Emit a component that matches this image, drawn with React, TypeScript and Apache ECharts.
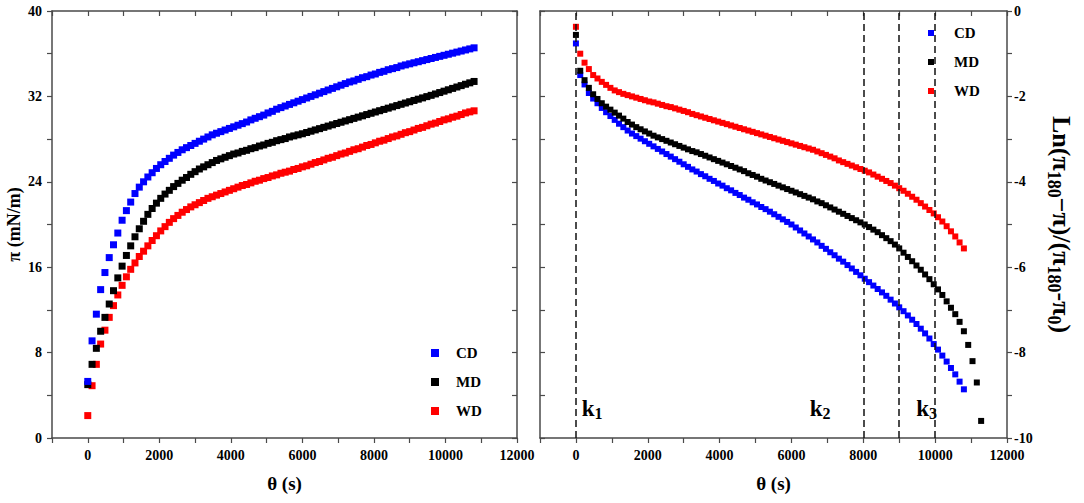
import React, { useEffect, useRef } from 'react';
import * as echarts from 'echarts';

// ---------- data ----------
const times = [
  0, 120, 240, 360, 480, 600, 720, 840, 960, 1080,
  1200, 1320, 1440, 1560, 1680, 1800, 1920, 2040, 2160, 2280,
  2400, 2520, 2640, 2760, 2880, 3000, 3120, 3240, 3360, 3480,
  3600, 3720, 3840, 3960, 4080, 4200, 4320, 4440, 4560, 4680,
  4800, 4920, 5040, 5160, 5280, 5400, 5520, 5640, 5760, 5880,
  6000, 6120, 6240, 6360, 6480, 6600, 6720, 6840, 6960, 7080,
  7200, 7320, 7440, 7560, 7680, 7800, 7920, 8040, 8160, 8280,
  8400, 8520, 8640, 8760, 8880, 9000, 9120, 9240, 9360, 9480,
  9600, 9720, 9840, 9960, 10080, 10200, 10320, 10440, 10560, 10680,
  10800,
];
const timesMdRight = [...times, 10920, 11040, 11160, 11280];

// surface pressure pi (mN/m)
const piCD = [
  5.3, 9.1, 11.6, 13.9, 15.5, 16.9, 18.1, 19.2, 20.4, 21.3,
  22.1, 22.9, 23.5, 24.0, 24.45, 24.85, 25.25, 25.6, 25.9, 26.2,
  26.5, 26.75, 27.0, 27.2, 27.4, 27.6, 27.8, 28.0, 28.2, 28.4,
  28.55, 28.7, 28.85, 29.0, 29.15, 29.3, 29.45, 29.6, 29.8, 29.95,
  30.1, 30.25, 30.45, 30.6, 30.8, 30.95, 31.1, 31.25, 31.4, 31.55,
  31.7, 31.85, 32.0, 32.15, 32.3, 32.45, 32.6, 32.75, 32.9, 33.05,
  33.2, 33.35, 33.45, 33.6, 33.75, 33.85, 34.0, 34.1, 34.25, 34.35,
  34.5, 34.6, 34.7, 34.85, 34.95, 35.05, 35.15, 35.25, 35.35, 35.45,
  35.55, 35.65, 35.75, 35.85, 35.95, 36.05, 36.15, 36.25, 36.35, 36.45,
  36.55,
];
const piMD = [
  5.0, 6.9, 8.4, 10.0, 11.3, 12.55, 13.8, 15.0, 16.1, 17.1,
  18.0, 18.85, 19.6, 20.3, 20.95, 21.5, 22.0, 22.45, 22.85, 23.2,
  23.55, 23.85, 24.15, 24.4, 24.7, 24.95, 25.2, 25.4, 25.6, 25.8,
  26.0, 26.15, 26.3, 26.45, 26.6, 26.7, 26.85, 26.95, 27.1, 27.2,
  27.35, 27.45, 27.6, 27.7, 27.85, 27.95, 28.05, 28.2, 28.3, 28.4,
  28.5, 28.62, 28.74, 28.86, 28.98, 29.1, 29.22, 29.34, 29.46, 29.58,
  29.7, 29.82, 29.94, 30.06, 30.18, 30.3, 30.42, 30.54, 30.66, 30.78,
  30.9, 31.02, 31.14, 31.26, 31.38, 31.5, 31.62, 31.74, 31.86, 31.98,
  32.1, 32.23, 32.36, 32.49, 32.62, 32.75, 32.88, 33.01, 33.14, 33.27,
  33.4,
];
const piWD = [
  2.1, 4.9, 6.9, 8.8, 10.1, 11.3, 12.4, 13.4, 14.3, 15.1,
  15.8, 16.4, 17.0, 17.5, 18.0, 18.5, 18.95, 19.4, 19.8, 20.2,
  20.55, 20.85, 21.15, 21.4, 21.65, 21.85, 22.05, 22.25, 22.45, 22.6,
  22.75, 22.9, 23.05, 23.2, 23.35, 23.5, 23.65, 23.75, 23.9, 24.05,
  24.15, 24.3, 24.4, 24.55, 24.65, 24.8, 24.9, 25.0, 25.15, 25.25,
  25.4, 25.5, 25.65, 25.8, 25.9, 26.05, 26.2, 26.3, 26.45, 26.6,
  26.7, 26.85, 27.0, 27.1, 27.25, 27.4, 27.5, 27.65, 27.8, 27.9,
  28.05, 28.2, 28.3, 28.45, 28.6, 28.7, 28.85, 29.0, 29.1, 29.25,
  29.4, 29.5, 29.65, 29.8, 29.9, 30.05, 30.15, 30.3, 30.45, 30.55,
  30.65,
];

// Ln((pi180 - pi)/(pi180 - pi0))
const lnCD = [
  -0.76, -1.5, -1.72, -1.92, -2.05, -2.16, -2.27, -2.37, -2.46, -2.55,
  -2.64, -2.72, -2.8, -2.87, -2.93, -2.99, -3.05, -3.11, -3.17, -3.23,
  -3.29, -3.35, -3.41, -3.47, -3.53, -3.59, -3.65, -3.71, -3.76, -3.82,
  -3.87, -3.93, -3.98, -4.04, -4.09, -4.15, -4.2, -4.26, -4.31, -4.37,
  -4.42, -4.48, -4.53, -4.59, -4.64, -4.7, -4.76, -4.82, -4.88, -4.94,
  -5.0, -5.07, -5.14, -5.21, -5.28, -5.35, -5.42, -5.5, -5.57, -5.65,
  -5.72, -5.8, -5.87, -5.95, -6.03, -6.11, -6.19, -6.27, -6.35, -6.43,
  -6.51, -6.59, -6.67, -6.76, -6.85, -6.94, -7.03, -7.13, -7.23, -7.33,
  -7.44, -7.55, -7.67, -7.8, -7.93, -8.07, -8.21, -8.36, -8.51, -8.68,
  -8.86,
];
const lnMD = [
  -0.56, -1.4, -1.62, -1.8, -1.95, -2.06, -2.16, -2.24, -2.31, -2.38,
  -2.45, -2.52, -2.6, -2.66, -2.72, -2.77, -2.82, -2.87, -2.92, -2.96,
  -3.0, -3.04, -3.08, -3.12, -3.16, -3.2, -3.24, -3.28, -3.31, -3.35,
  -3.39, -3.43, -3.47, -3.51, -3.55, -3.59, -3.63, -3.67, -3.71, -3.75,
  -3.8, -3.84, -3.88, -3.93, -3.97, -4.01, -4.05, -4.09, -4.13, -4.17,
  -4.21, -4.25, -4.29, -4.33, -4.37, -4.41, -4.46, -4.5, -4.55, -4.6,
  -4.65, -4.7, -4.75, -4.8, -4.85, -4.9, -4.95, -5.0, -5.06, -5.12,
  -5.18, -5.25, -5.32, -5.39, -5.47, -5.56, -5.66, -5.76, -5.86, -5.96,
  -6.06, -6.17, -6.28, -6.4, -6.52, -6.65, -6.8, -6.95, -7.1, -7.28,
  -7.5, -7.82, -8.2, -8.7, -9.6,
];
const lnWD = [
  -0.37, -1.0, -1.21, -1.36, -1.5, -1.58, -1.66, -1.73, -1.8, -1.86,
  -1.9, -1.94, -1.97, -2.0, -2.03, -2.06, -2.09, -2.12, -2.14, -2.17,
  -2.2, -2.23, -2.25, -2.28, -2.31, -2.34, -2.37, -2.41, -2.44, -2.47,
  -2.5, -2.53, -2.56, -2.59, -2.62, -2.65, -2.68, -2.71, -2.74, -2.77,
  -2.8, -2.83, -2.86, -2.89, -2.92, -2.95, -2.98, -3.01, -3.04, -3.07,
  -3.1, -3.13, -3.16, -3.19, -3.22, -3.25, -3.29, -3.33, -3.37, -3.41,
  -3.45, -3.5, -3.54, -3.58, -3.62, -3.66, -3.7, -3.74, -3.78, -3.83,
  -3.88, -3.93, -3.98, -4.03, -4.09, -4.15, -4.21, -4.28, -4.35, -4.42,
  -4.5, -4.58, -4.66, -4.74, -4.83, -4.93, -5.04, -5.16, -5.28, -5.42,
  -5.56,
];

const seriesNames = ['CD', 'MD', 'WD'];
const kLines = [0, 8000, 9000, 10000];
const kLabelX = [450, 6800, 9760];
const kLabelY = [-9.3, -9.3, -9.3];
const kSubs = ['1', '2', '3'];

// ---------- styling ----------
const FONT = "'Liberation Serif', 'Times New Roman', serif";
const AXIS_COLOR = '#4a4a4a';
const BLUE = '#0000ff';
const BLACK = '#000000';
const RED = '#ff0000';

const pairs = (xs: number[], ys: number[]) => ys.map((y, i) => [xs[i], y]);

const labelStyle = {
  fontFamily: FONT,
  fontWeight: 'bold' as const,
  fontSize: 14,
  color: '#000',
};

function xAxisCfg(gridIndex: number, position: 'bottom' | 'top', labeled: boolean) {
  return {
    type: 'value',
    gridIndex,
    position,
    min: -1000,
    max: 12000,
    interval: 1000,
    name: labeled ? 'θ (s)' : '',
    nameLocation: 'middle',
    nameGap: 36,
    nameTextStyle: { fontFamily: FONT, fontWeight: 'bold', fontSize: 19, color: '#000' },
    axisLine: { show: true, onZero: false, lineStyle: { color: AXIS_COLOR, width: 1.5 } },
    axisTick: { show: true, inside: !labeled, length: 5, lineStyle: { color: AXIS_COLOR, width: 1.2 } },
    axisLabel: {
      show: labeled,
      margin: 10,
      ...labelStyle,
      formatter: (v: number) => (v % 2000 === 0 ? String(v) : ''),
    },
    splitLine: { show: false },
  };
}

const option: any = {
  animation: false,
  backgroundColor: '#ffffff',
  grid: [
    { left: 52, top: 11, width: 465, height: 427 },
    { left: 540, top: 11, width: 467, height: 427 },
  ],
  xAxis: [
    xAxisCfg(0, 'bottom', true),
    xAxisCfg(0, 'top', false),
    xAxisCfg(1, 'bottom', true),
    xAxisCfg(1, 'top', false),
  ],
  yAxis: [
    {
      type: 'value',
      gridIndex: 0,
      position: 'left',
      min: 0,
      max: 40,
      interval: 4,
      name: 'π (mN/m)',
      nameLocation: 'middle',
      nameGap: 29,
      nameTextStyle: { fontFamily: FONT, fontWeight: 'bold', fontSize: 18, color: '#000' },
      axisLine: { show: true, onZero: false, lineStyle: { color: AXIS_COLOR, width: 1.5 } },
      axisTick: { show: true, inside: false, length: 5, lineStyle: { color: AXIS_COLOR, width: 1.2 } },
      axisLabel: {
        margin: 10,
        ...labelStyle,
        formatter: (v: number) => (v % 8 === 0 ? String(v) : ''),
      },
      splitLine: { show: false },
    },
    {
      type: 'value',
      gridIndex: 0,
      position: 'right',
      min: 0,
      max: 40,
      interval: 4,
      axisLine: { show: true, onZero: false, lineStyle: { color: AXIS_COLOR, width: 1.5 } },
      axisTick: { show: true, inside: true, length: 5, lineStyle: { color: AXIS_COLOR, width: 1.2 } },
      axisLabel: { show: false },
      splitLine: { show: false },
    },
    {
      type: 'value',
      gridIndex: 1,
      position: 'right',
      min: -10,
      max: 0,
      interval: 1,
      name: '{m|Ln(π}{s|180}{m|−π)/(π}{s|180}{m|-π}{s|0}{m|)}',
      nameLocation: 'middle',
      nameRotate: -90,
      nameGap: 38,
      nameTextStyle: {
        fontFamily: FONT,
        fontWeight: 'bold',
        color: '#000',
        rich: {
          m: { fontFamily: FONT, fontWeight: 'bold', fontSize: 26, lineHeight: 32, color: '#000', verticalAlign: 'middle' },
          s: { fontFamily: FONT, fontWeight: 'bold', fontSize: 18, lineHeight: 18, color: '#000', verticalAlign: 'bottom' },
        },
      },
      axisLine: { show: true, onZero: false, lineStyle: { color: AXIS_COLOR, width: 1.5 } },
      axisTick: { show: true, inside: false, length: 5, lineStyle: { color: AXIS_COLOR, width: 1.2 } },
      axisLabel: {
        margin: 7,
        ...labelStyle,
        formatter: (v: number) => (v % 2 === 0 ? String(v) : ''),
      },
      splitLine: { show: false },
    },
    {
      type: 'value',
      gridIndex: 1,
      position: 'left',
      min: -10,
      max: 0,
      interval: 1,
      axisLine: { show: true, onZero: false, lineStyle: { color: AXIS_COLOR, width: 1.5 } },
      axisTick: { show: true, inside: true, length: 5, lineStyle: { color: AXIS_COLOR, width: 1.2 } },
      axisLabel: { show: false },
      splitLine: { show: false },
    },
  ],
  legend: [
    {
      data: seriesNames,
      orient: 'vertical',
      left: 431,
      top: 345,
      padding: 0,
      itemWidth: 8,
      itemHeight: 8,
      itemGap: 13,
      icon: 'rect',
      selectedMode: false,
      textStyle: { fontFamily: FONT, fontWeight: 'bold', fontSize: 15, color: '#000', lineHeight: 16, padding: [0, 0, 0, 12] },
    },
    {
      data: seriesNames,
      orient: 'vertical',
      left: 928,
      top: 25,
      padding: 0,
      itemWidth: 6,
      itemHeight: 6,
      itemGap: 13,
      icon: 'rect',
      selectedMode: false,
      textStyle: { fontFamily: FONT, fontWeight: 'bold', fontSize: 15, color: '#000', lineHeight: 16, padding: [0, 0, 0, 15] },
    },
  ],
  series: [
    {
      name: 'WD', type: 'scatter', xAxisIndex: 0, yAxisIndex: 0,
      symbol: 'rect', symbolSize: 7, itemStyle: { color: RED, opacity: 1 },
      data: pairs(times, piWD), silent: true,
    },
    {
      name: 'MD', type: 'scatter', xAxisIndex: 0, yAxisIndex: 0,
      symbol: 'rect', symbolSize: 7, itemStyle: { color: BLACK, opacity: 1 },
      data: pairs(times, piMD), silent: true,
    },
    {
      name: 'CD', type: 'scatter', xAxisIndex: 0, yAxisIndex: 0,
      symbol: 'rect', symbolSize: 7, itemStyle: { color: BLUE, opacity: 1 },
      data: pairs(times, piCD), silent: true,
    },
    {
      name: 'CD', type: 'scatter', xAxisIndex: 2, yAxisIndex: 2,
      symbol: 'rect', symbolSize: 6, itemStyle: { color: BLUE, opacity: 1 },
      data: pairs(times, lnCD), silent: true,
    },
    {
      name: 'MD', type: 'scatter', xAxisIndex: 2, yAxisIndex: 2,
      symbol: 'rect', symbolSize: 6, itemStyle: { color: BLACK, opacity: 1 },
      data: pairs(timesMdRight, lnMD), silent: true,
    },
    {
      name: 'WD', type: 'scatter', xAxisIndex: 2, yAxisIndex: 2,
      symbol: 'rect', symbolSize: 6, itemStyle: { color: RED, opacity: 1 },
      data: pairs(times, lnWD), silent: true,
      markLine: {
        silent: true,
        symbol: ['none', 'none'],
        label: { show: false },
        lineStyle: { color: '#111', width: 1.5, type: [7, 4] },
        data: kLines.map((v) => ({ xAxis: v })),
      },
    },
    {
      type: 'scatter', xAxisIndex: 2, yAxisIndex: 2,
      symbol: 'rect', symbolSize: 0.1, silent: true,
      itemStyle: { color: '#000' },
      data: pairs(kLabelX, kLabelY),
      label: {
        show: true,
        position: 'inside',
        color: '#000',
        opacity: 1,
        textBorderWidth: 0,
        formatter: (p: any) => `{k|k}{s|${kSubs[p.dataIndex]}}`,
        rich: {
          k: { fontFamily: FONT, fontWeight: 'bold', fontSize: 23, lineHeight: 26, color: '#000', textBorderWidth: 0, verticalAlign: 'middle' },
          s: { fontFamily: FONT, fontWeight: 'bold', fontSize: 16, lineHeight: 16, color: '#000', textBorderWidth: 0, verticalAlign: 'bottom' },
        },
      },
    },
  ],
};

export default function App() {
  const ref = useRef<HTMLDivElement>(null);
  useEffect(() => {
    document.body.style.margin = '0';
    const chart = echarts.init(ref.current as HTMLDivElement, null, { renderer: 'svg' });
    chart.setOption(option);
    return () => chart.dispose();
  }, []);
  return <div ref={ref} style={{ width: 1084, height: 503, background: '#fff' }} />;
}
